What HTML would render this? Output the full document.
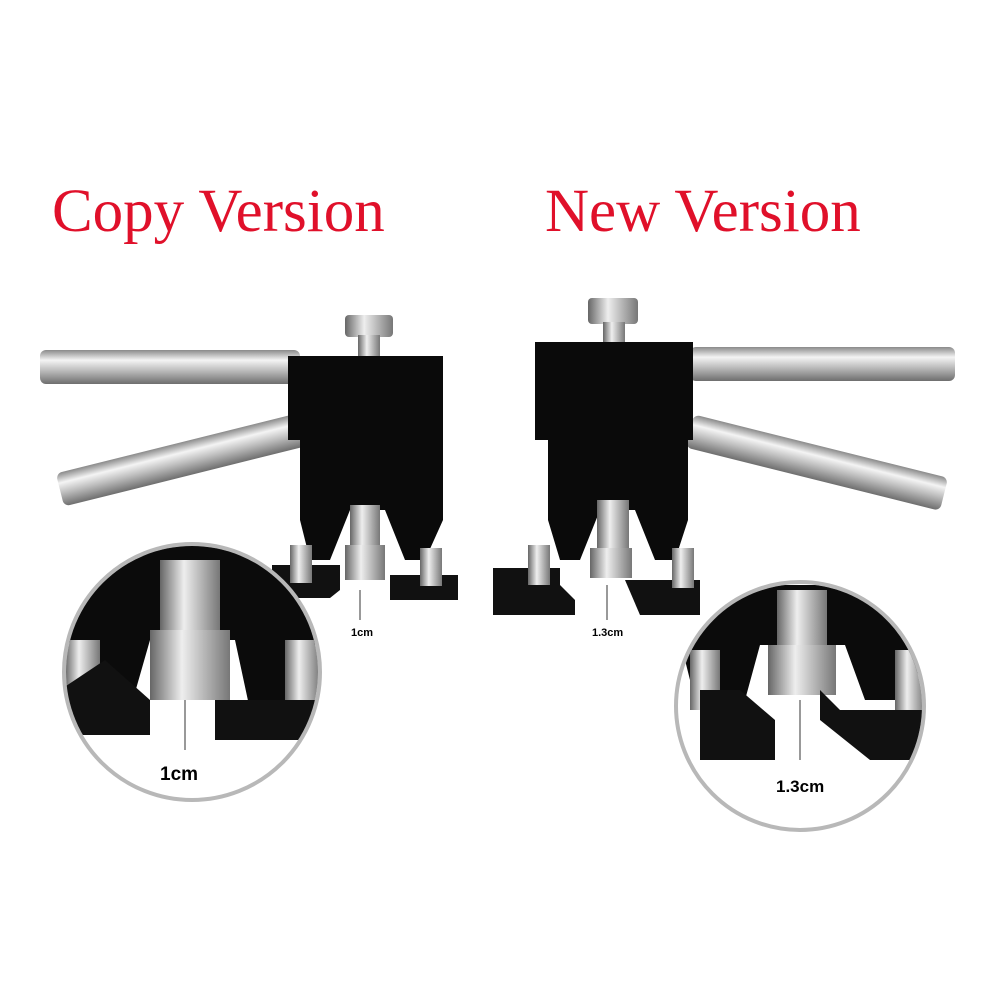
<!DOCTYPE html>
<html><head><meta charset="utf-8"><style>
html,body{margin:0;padding:0;background:#fff;}
svg{display:block}
</style></head><body>
<svg width="1000" height="982" viewBox="0 0 1000 982" xmlns="http://www.w3.org/2000/svg">
<defs>
<linearGradient id="rod" x1="0" y1="0" x2="0" y2="1">
<stop offset="0" stop-color="#8a8a8a"/><stop offset="0.3" stop-color="#f4f4f4"/><stop offset="0.6" stop-color="#bdbdbd"/><stop offset="1" stop-color="#6e6e6e"/></linearGradient>
<linearGradient id="met" x1="0" y1="0" x2="1" y2="0">
<stop offset="0" stop-color="#666"/><stop offset="0.4" stop-color="#eee"/><stop offset="1" stop-color="#777"/></linearGradient>
<clipPath id="c1"><circle cx="192" cy="672" r="126"/></clipPath>
<clipPath id="c2"><circle cx="800" cy="706" r="122"/></clipPath>
</defs>
<rect width="1000" height="982" fill="#fff"/>
<text x="52" y="231" font-family="Liberation Serif, serif" font-size="61" fill="#e0102a">Copy Version</text>
<text x="545" y="231" font-family="Liberation Serif, serif" font-size="61" fill="#e0102a">New Version</text>

<!-- LEFT TOOL -->
<rect x="40" y="350" width="260" height="34" rx="6" fill="url(#rod)"/>
<g transform="rotate(-14 60 490)"><rect x="60" y="473" width="250" height="34" rx="6" fill="url(#rod)"/></g>
<rect x="345" y="315" width="48" height="22" rx="4" fill="url(#met)"/>
<rect x="358" y="335" width="22" height="40" fill="url(#met)"/>
<path d="M288 356 H443 V520 L425 560 H405 L385 510 H350 L330 560 H310 L300 520 V440 H288 Z" fill="#0a0a0a"/>
<rect x="350" y="505" width="30" height="45" fill="url(#met)"/>
<rect x="345" y="545" width="40" height="35" fill="url(#met)"/>
<path d="M272 565 H340 V590 L330 598 H272 Z" fill="#111"/>
<path d="M390 575 H458 V600 H390 Z" fill="#111"/>
<rect x="290" y="545" width="22" height="38" fill="url(#met)"/>
<rect x="420" y="548" width="22" height="38" fill="url(#met)"/>
<line x1="360" y1="590" x2="360" y2="620" stroke="#333" stroke-width="1"/>
<text x="351" y="636" font-family="Liberation Sans, sans-serif" font-size="11" font-weight="bold" fill="#000">1cm</text>

<!-- RIGHT TOOL -->
<rect x="690" y="347" width="265" height="34" rx="6" fill="url(#rod)"/>
<g transform="rotate(14 690 430)"><rect x="690" y="414" width="262" height="34" rx="6" fill="url(#rod)"/></g>
<rect x="588" y="298" width="50" height="26" rx="4" fill="url(#met)"/>
<rect x="603" y="322" width="22" height="40" fill="url(#met)"/>
<path d="M535 342 H693 V440 H688 V520 L675 560 H655 L635 510 H600 L580 560 H560 L548 520 V440 H535 Z" fill="#0a0a0a"/>
<rect x="597" y="500" width="32" height="55" fill="url(#met)"/>
<rect x="590" y="548" width="42" height="30" fill="url(#met)"/>
<path d="M493 568 H560 V585 L575 600 V615 H493 Z" fill="#111"/>
<path d="M625 580 H700 V615 H640 Z" fill="#111"/>
<rect x="528" y="545" width="22" height="40" fill="url(#met)"/>
<rect x="672" y="548" width="22" height="40" fill="url(#met)"/>
<line x1="607" y1="585" x2="607" y2="620" stroke="#333" stroke-width="1"/>
<text x="592" y="636" font-family="Liberation Sans, sans-serif" font-size="11" font-weight="bold" fill="#000">1.3cm</text>

<!-- LEFT INSET -->
<circle cx="192" cy="672" r="128" fill="#fff" stroke="#b8b8b8" stroke-width="4"/>
<g clip-path="url(#c1)">
<path d="M60 545 H330 V600 L310 660 L300 710 H250 L235 640 H150 L130 710 H85 L70 650 Z" fill="#0b0b0b"/>
<rect x="160" y="560" width="60" height="80" fill="url(#met)"/>
<rect x="150" y="630" width="80" height="70" fill="url(#met)"/>
<rect x="65" y="640" width="35" height="70" fill="url(#met)"/>
<rect x="285" y="640" width="35" height="70" fill="url(#met)"/>
<path d="M105 660 L150 700 V735 H60 V690 Z" fill="#111"/>
<path d="M215 700 H330 V740 H215 Z" fill="#111"/>
<line x1="185" y1="700" x2="185" y2="750" stroke="#333"/>
</g>
<text x="160" y="780" font-family="Liberation Sans, sans-serif" font-size="19" font-weight="bold" fill="#000">1cm</text>

<!-- RIGHT INSET -->
<circle cx="800" cy="706" r="124" fill="#fff" stroke="#b8b8b8" stroke-width="4"/>
<g clip-path="url(#c2)">
<path d="M676 585 H925 V650 L910 700 H865 L845 645 H760 L745 700 H695 L680 640 Z" fill="#0b0b0b"/>
<rect x="777" y="590" width="50" height="60" fill="url(#met)"/>
<rect x="768" y="645" width="68" height="50" fill="url(#met)"/>
<rect x="690" y="650" width="30" height="60" fill="url(#met)"/>
<rect x="895" y="650" width="30" height="60" fill="url(#met)"/>
<path d="M700 690 H740 L775 720 V760 H700 Z" fill="#111"/>
<path d="M820 690 L840 710 H925 V760 H870 L820 720 Z" fill="#111"/>
<line x1="800" y1="700" x2="800" y2="760" stroke="#333"/>
</g>
<text x="776" y="792" font-family="Liberation Sans, sans-serif" font-size="17" font-weight="bold" fill="#000">1.3cm</text>
</svg>
</body></html>
